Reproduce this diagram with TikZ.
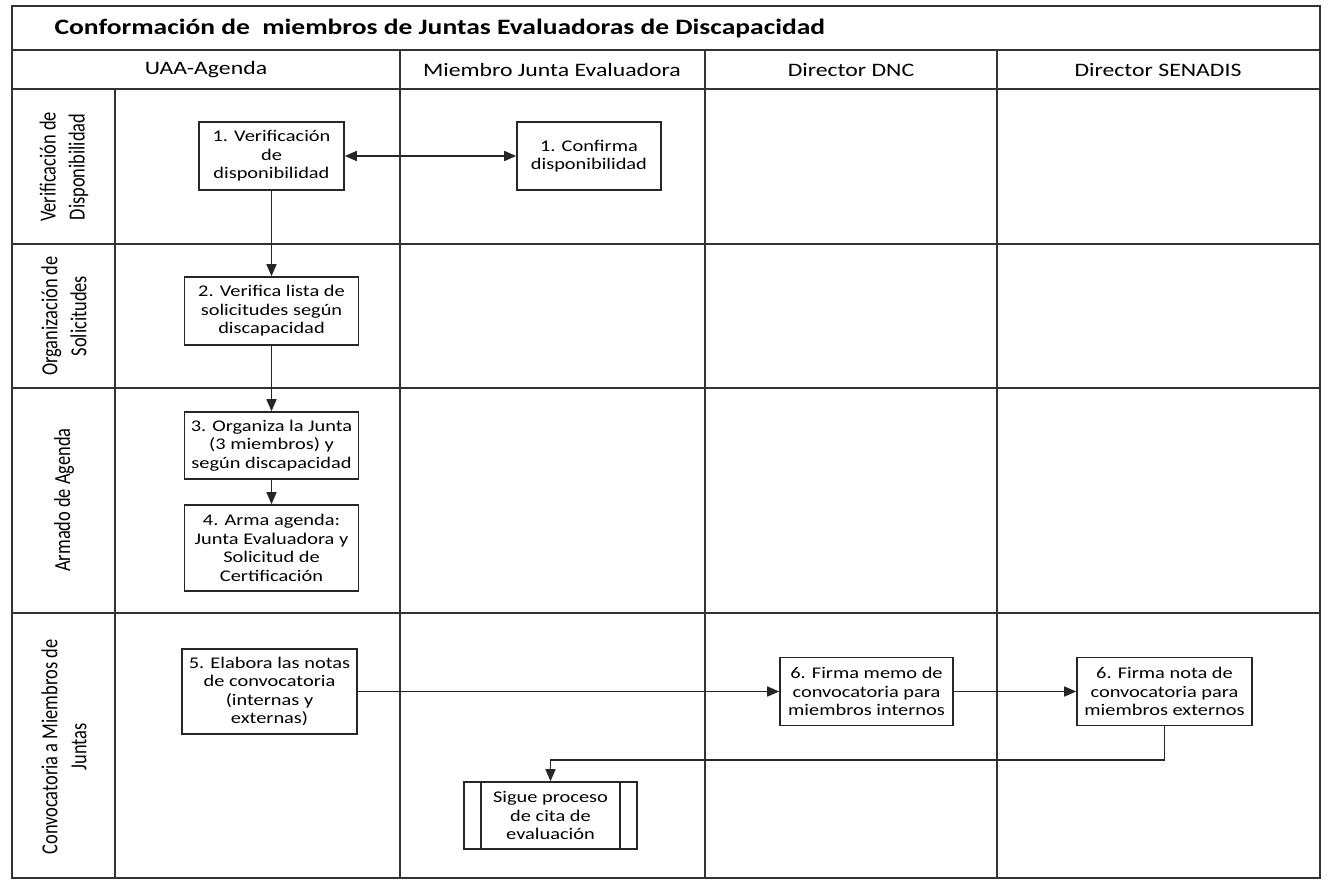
\documentclass[tikz,border=0pt]{standalone}
\usepackage{fontspec}
\setmainfont{Carlito}
\newfontfamily\hfont[FakeStretch=1.25]{Carlito}
\newfontfamily\vfont[FakeStretch=0.8]{Carlito}
\usetikzlibrary{arrows.meta}
\tikzset{
  grid/.style={line width=1.7pt, draw=black!80},
  stepbox/.style={draw=black!85, line width=1.6pt, fill=white, align=center, inner sep=0pt,
    font=\hfont\fontsize{16.3}{18.5}\selectfont},
  flow/.style={line width=1.6pt, draw=black!85, -{Triangle[length=12pt,width=10pt]}},
  biflow/.style={line width=1.6pt, draw=black!85, {Triangle[length=12pt,width=10pt]}-{Triangle[length=12pt,width=10pt]}},
  plain/.style={line width=1.6pt, draw=black!85},
  hdr/.style={font=\hfont\fontsize{19}{22}\selectfont},
  lanelbl/.style={rotate=90, align=center, font=\vfont\fontsize{23}{29}\selectfont},
}
\begin{document}
\begin{tikzpicture}[x=1pt,y=-1pt]
\useasboundingbox (0,0) rectangle (1327,882);
% frame and grid
\draw[grid] (12,6) rectangle (1320,878);
\draw[grid] (12,50) -- (1320,50);
\draw[grid] (12,89) -- (1320,89);
\draw[grid] (400,50) -- (400,878);
\draw[grid] (705,50) -- (705,878);
\draw[grid] (997,50) -- (997,878);
\draw[grid] (115,89) -- (115,878);
\draw[grid] (12,244) -- (1320,244);
\draw[grid] (12,388) -- (1320,388);
\draw[grid] (12,613) -- (1320,613);
% title
\node[anchor=west, font=\hfont\bfseries\fontsize{22}{26}\selectfont] (title) at (51,29) {Conformación de\ \ miembros de Juntas Evaluadoras de Discapacidad};
% headers
\node[hdr] (h1) at (206,70) {UAA-Agenda};
\node[hdr] (h2) at (552,70) {Miembro Junta Evaluadora};
\node[hdr] (h3) at (851,70) {Director DNC};
\node[hdr] (h4) at (1158,70) {Director SENADIS};
% lane labels
\node[lanelbl] (l1) at (64,167) {Verificación de\\Disponibilidad};
\node[lanelbl] (l2) at (64,316) {Organización de\\Solicitudes};
\node[lanelbl] (l3) at (64,500) {Armado de Agenda};
\node[lanelbl] (l4) at (64,747) {Convocatoria a Miembros de\\Juntas};
% boxes
\node[stepbox, minimum width=145pt, minimum height=68pt] (b1) at (271.5,156) {1. Verificación\\de\\disponibilidad};
\node[stepbox, minimum width=144pt, minimum height=68pt] (c1) at (589,156) {1. Confirma\\disponibilidad};
\node[stepbox, minimum width=174pt, minimum height=68pt] (b2) at (271.5,311) {2. Verifica lista de\\solicitudes según\\discapacidad};
\node[stepbox, minimum width=174pt, minimum height=67pt] (b3) at (271.5,445.5) {3. Organiza la Junta\\(3 miembros) y\\según discapacidad};
\node[stepbox, minimum width=174pt, minimum height=86pt] (b4) at (271.5,548) {4. Arma agenda:\\Junta Evaluadora y\\Solicitud de\\Certificación};
\node[stepbox, minimum width=175pt, minimum height=85pt] (b5) at (269.5,691.5) {5. Elabora las notas\\de convocatoria\\(internas y\\externas)};
\node[stepbox, minimum width=173pt, minimum height=68pt] (b6) at (866.5,691.5) {6. Firma memo de\\convocatoria para\\miembros internos};
\node[stepbox, minimum width=175pt, minimum height=68pt] (b7) at (1164.5,691.5) {6. Firma nota de\\convocatoria para\\miembros externos};
\node[stepbox, minimum width=173pt, minimum height=67pt] (sg) at (550.5,815.5) {Sigue proceso\\de cita de\\evaluación};
\draw[plain] ([xshift=18pt]sg.north west) -- ([xshift=18pt]sg.south west);
\draw[plain] ([xshift=-18pt]sg.north east) -- ([xshift=-18pt]sg.south east);
% connectors
\draw[biflow] (b1.east) -- (c1.west);
\draw[flow] (b1.south) -- (b2.north);
\draw[flow] (b2.south) -- (b3.north);
\draw[flow] (b3.south) -- (b4.north);
\draw[flow] (b5.east) -- (b6.west);
\draw[flow] (b6.east) -- (b7.west);
\coordinate (ret) at (1164.5,760);
\draw[flow] (b7.south) -- (ret) -| (sg.north);
\end{tikzpicture}
\end{document}
